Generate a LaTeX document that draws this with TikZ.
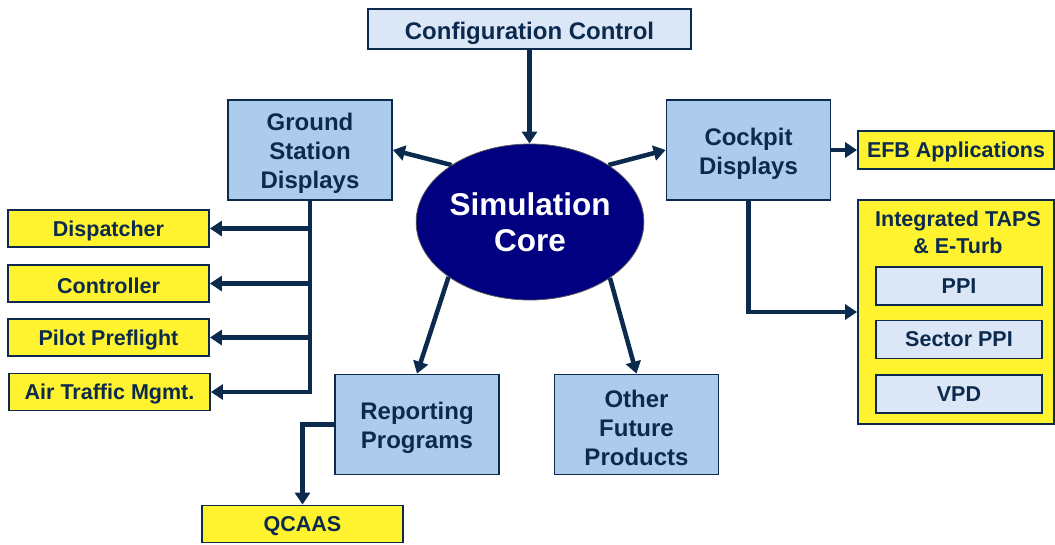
\documentclass[tikz,border=0pt]{standalone}
\usepackage{fontspec}
\setmainfont{Liberation Sans}
\usetikzlibrary{
    positioning,
    arrows.meta,
    shapes.geometric
}
\definecolor{navyline}{HTML}{0B2A4E}
\definecolor{boxblue}{HTML}{ADCBEC}
\definecolor{paleblue}{HTML}{DBE7F6}
\definecolor{boxyellow}{HTML}{FFF22E}
\definecolor{corenavy}{HTML}{000080}
\tikzset{
    >={Triangle[length=12pt,width=15pt]},
    bluetext/.style={
        text=navyline, font=\bfseries\fontsize{24}{29}\selectfont,
        align=center, inner sep=0pt, yshift=-3.5pt
    },
    bluebox/.style={
        draw=navyline, line width=1.8pt, fill=boxblue,
        inner sep=0pt, minimum width=164pt, minimum height=100pt,
        label={[bluetext]center:#1}
    },
    yellowbox/.style={
        draw=navyline, line width=1.8pt, fill=boxyellow, text=navyline,
        font=\bfseries\fontsize{21.5}{27}\selectfont, align=center,
        inner sep=0pt, minimum width=201pt, minimum height=37pt,
        execute at begin node={\rule{0pt}{0.92em}}
    },
    palebox/.style={
        draw=navyline, line width=1.8pt, fill=paleblue, text=navyline,
        font=\bfseries\fontsize{21.5}{27}\selectfont, align=center,
        inner sep=0pt, minimum width=166pt, minimum height=38pt
    },
    conn/.style={
        ->, draw=navyline, line width=4.5pt
    }
}

\begin{document}
\begin{tikzpicture}[x=1pt, y=-1pt]

    \useasboundingbox (0,0) rectangle (1055,544);

    % Centre
    \node[ellipse, draw=gray!70!black, line width=0.8pt, fill=corenavy,
          text=white, font=\bfseries\fontsize{31.5}{36}\selectfont, align=center,
          minimum width=224pt, minimum height=156pt, inner sep=0pt]
          (core) at (530,222) {Simulation\\Core};

    % Blocs principaux
    \node[palebox, minimum width=323pt, minimum height=40pt,
          font=\bfseries\fontsize{24}{29}\selectfont,
          execute at begin node={\rule{0pt}{1.05em}}]
          (config)  at (529.5,29)  {Configuration Control};
    \node[bluebox={Ground\\Station\\Displays}] (ground)  at (310,150)     {};
    \node[bluebox={Cockpit\\Displays}]         (cockpit) at (748.5,150)   {};
    \node[bluebox={Reporting\\Programs}]       (report)  at (417,424.5)   {};
    \node[bluebox={Other\\Future\\Products}]   (other)   at (636.5,424.5) {};

    % Applications
    \node[yellowbox, minimum width=196pt, minimum height=38pt]
          (efb) at (956,150) {EFB Applications};
    \node[yellowbox, minimum width=196pt, minimum height=224pt]
          (taps) at (956,312) {};
    \node[text=navyline, font=\bfseries\fontsize{21.5}{27}\selectfont, align=center]
          (tapstitle) at (958,232) {Integrated TAPS\\\& E-Turb};
    \node[palebox] (ppi)  at (959,286)   {PPI};
    \node[palebox] (sppi) at (959,339.5) {Sector PPI};
    \node[palebox] (vpd)  at (959,394)   {VPD};

    \node[yellowbox] (dispatch) at (108.5,228.5) {Dispatcher};
    \node[yellowbox] (ctrl)     at (108.5,283.5) {Controller};
    \node[yellowbox] (pilot)    at (108.5,337.5) {Pilot Preflight};
    \node[yellowbox] (atm)      at (109.5,392)   {Air Traffic Mgmt.};
    \node[yellowbox] (qcaas)    at (302.5,524)   {QCAAS};

    % Liaisons
    \draw[conn] (config.south) -- (config.south |- core.north);
    \draw[conn] (core.144) -- (ground.east);
    \draw[conn] (core.36)  -- (cockpit.west);
    \draw[conn] (core.214) -- (report.north);
    \draw[conn] (core.325) -- (other.north);

    \draw[conn] (cockpit.east) -- (efb.west);
    \draw[conn] (cockpit.south) |- (taps.west);

    \draw[conn] (ground.south) |- (atm.east);
    \foreach \n in {dispatch, ctrl, pilot}
        \draw[conn] (ground.south |- \n.east) -- (\n.east);

    \draw[conn] (report.west) -| (qcaas.north);

\end{tikzpicture}
\end{document}
